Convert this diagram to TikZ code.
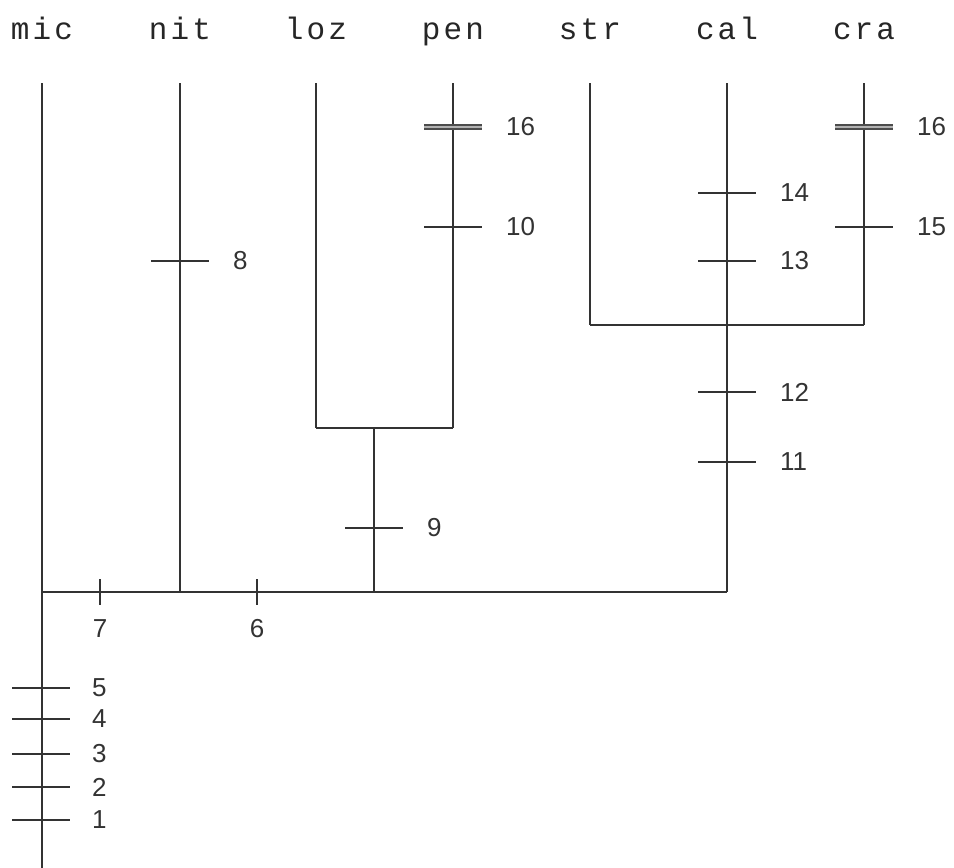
\documentclass[tikz,border=0pt]{standalone}
\usepackage{fontspec}
\setmainfont{Liberation Sans}
\newfontfamily\taxfont[LetterSpace=10]{Liberation Mono}
\begin{document}
\begin{tikzpicture}[x=1pt,y=-1pt,
  branch/.style={line width=2.4pt,draw=black!80},
  tick/.style={line width=2.4pt,draw=black!80},
  taxon/.style={font=\taxfont\fontsize{31}{31}\selectfont,text=black!85,inner sep=0pt,anchor=base},
  num/.style={font=\fontsize{26}{26}\selectfont,text=black!80,inner sep=0pt,anchor=west},
  dbl/.style={line width=2.2pt,draw=black!70,double=black!30,double distance=1.6pt}]
\useasboundingbox (0,0) rectangle (954,868);
% taxon labels
\foreach \n/\x in {mic/42,nit/180,loz/316,pen/453,str/590,cal/727,cra/864}{
  \node[taxon] (L\n) at (\x,39) {\n};
  \coordinate (T\n) at (\x,83);
}
% junctions
\coordinate (Jroot) at (42,868);
\coordinate (Jmain) at (42,592);
\coordinate (Jnit) at (180,592);
\coordinate (Jlp) at (374,592);
\coordinate (Jcal) at (727,592);
\coordinate (Hlp) at (374,428);
\coordinate (Hloz) at (316,428);
\coordinate (Hpen) at (453,428);
\coordinate (Hsc) at (727,325);
\coordinate (Hstr) at (590,325);
\coordinate (Hcra) at (864,325);
% branches
\draw[branch] (Tmic) -- (Jroot);
\draw[branch] (Jmain) -- (Jcal);
\draw[branch] (Tnit) -- (Jnit);
\draw[branch] (Jlp) -- (Hlp);
\draw[branch] (Hloz) -- (Hpen);
\draw[branch] (Tloz) -- (Hloz);
\draw[branch] (Tpen) -- (Hpen);
\draw[branch] (Tcal) -- (Jcal);
\draw[branch] (Hstr) -- (Hcra);
\draw[branch] (Tstr) -- (Hstr);
\draw[branch] (Tcra) -- (Hcra);
% horizontal ticks: name/x/y/label
\foreach \k/\x/\y/\t in {a/42/688/5,b/42/719/4,c/42/754/3,d/42/787/2,e/42/820/1}{
  \coordinate (A\k) at (\x-30,\y);
  \coordinate (B\k) at (\x+28,\y);
  \draw[tick] (A\k) -- (B\k);
  \node[num] (N\k) at (\x+50,\y) {\t};
}
\foreach \k/\x/\y/\t in {f/180/261/8,g/374/528/9,h/453/227/10,i/727/193/14,j/727/261/13,k/727/392/12,l/727/462/11,m/864/227/15}{
  \coordinate (A\k) at (\x-29,\y);
  \coordinate (B\k) at (\x+29,\y);
  \draw[tick] (A\k) -- (B\k);
  \node[num] (N\k) at (\x+53,\y) {\t};
}
% double bars (16)
\foreach \k/\x in {p/453,q/864}{
  \coordinate (A\k) at (\x-29,127);
  \coordinate (B\k) at (\x+29,127);
  \draw[dbl] (A\k) -- (B\k);
  \node[num] (N\k) at (\x+53,127) {16};
}
% vertical ticks on main horizontal
\foreach \k/\x/\t in {r/100/7,s/257/6}{
  \coordinate (A\k) at (\x,579);
  \coordinate (B\k) at (\x,605);
  \draw[tick] (A\k) -- (B\k);
  \node[num,anchor=center] (N\k) at (\x,629) {\t};
}
\end{tikzpicture}
\end{document}
